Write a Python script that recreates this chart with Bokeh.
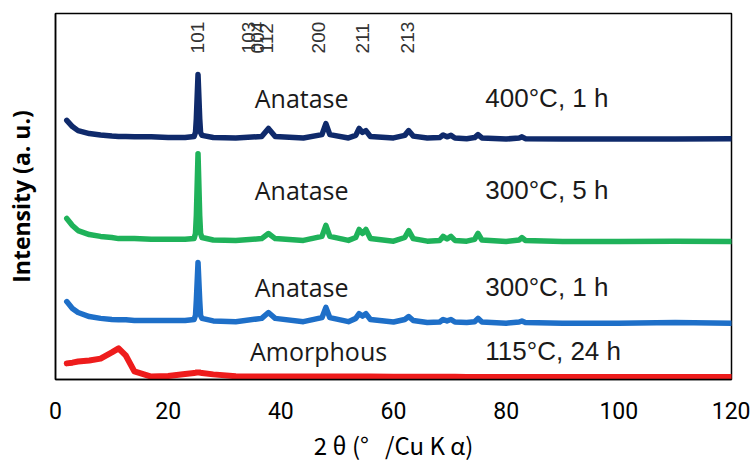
import math
from bokeh.plotting import figure
from bokeh.models import ColumnDataSource, FixedTicker, Range1d
from bokeh.core.properties import value
from bokeh.embed import file_html
from bokeh.resources import INLINE

# 2-theta positions (degrees)
two_theta = [2, 3, 4, 6, 8, 10, 11.2, 12.5, 14, 17, 20, 23, 24.6, 24.85, 25.0, 25.3, 25.6, 25.75,
             26.0, 28, 32, 36.6, 37.8, 39.0, 44, 47.3, 48.0, 48.7, 52, 53.3, 53.9, 54.5, 55.1,
             55.9, 60, 62.0, 62.7, 63.5, 66, 68.2, 68.8, 69.5, 70.2, 70.9, 73, 74.4, 75.0, 75.7,
             80, 82.3, 82.8, 83.4, 90, 100, 110, 120]

# stacked intensities (a. u.)
i_400c_1h = [70.8, 69.1, 68.0, 67.2, 66.8, 66.5, 66.4, 66.4, 66.3, 66.3, 66.1, 66.1, 66.4, 67.5, 71.3, 83.3, 71.3, 67.5,
             66.7, 66.1, 66.0, 66.4, 68.6, 66.4, 66.0, 66.9, 69.9, 66.9, 66.0, 66.7, 68.6, 67.5, 68.0,
             66.4, 66.0, 66.7, 68.0, 66.5, 66.0, 66.1, 66.8, 66.3, 66.7, 66.0, 65.8, 66.1, 66.9, 66.0,
             65.7, 66.0, 66.3, 65.8, 65.7, 65.7, 65.7, 65.8]
i_300c_5h = [44.0, 42.1, 40.7, 39.6, 39.1, 38.8, 38.5, 38.5, 38.5, 38.3, 38.3, 38.3, 38.5, 39.9, 44.8, 61.7, 44.8, 39.9,
             38.8, 38.1, 38.0, 38.5, 39.9, 38.5, 38.0, 39.1, 42.1, 39.1, 38.0, 38.8, 41.0, 39.9, 41.0,
             38.5, 37.8, 38.8, 40.7, 38.5, 37.8, 38.0, 39.1, 38.4, 39.1, 38.0, 37.8, 38.3, 39.9, 38.1,
             37.7, 38.1, 38.8, 38.0, 37.7, 37.7, 37.8, 37.7]
i_300c_1h = [21.3, 19.4, 18.3, 17.2, 16.7, 16.4, 16.3, 16.3, 16.1, 16.1, 16.1, 16.1, 16.4, 17.5, 21.6, 32.0, 21.6, 17.5,
             16.7, 16.0, 15.8, 16.7, 18.3, 16.7, 15.8, 16.9, 19.7, 16.9, 15.8, 16.7, 18.0, 17.3, 18.0,
             16.4, 15.7, 16.4, 17.2, 16.1, 15.6, 15.7, 16.4, 16.0, 16.4, 15.7, 15.6, 15.8, 16.7, 15.7,
             15.4, 15.7, 16.0, 15.6, 15.4, 15.4, 15.6, 15.4]
i_115c_24h = [4.4, 4.6, 4.9, 5.2, 5.7, 7.4, 8.5, 6.5, 2.2, 0.8, 0.95, 1.5, 1.8, 1.85, 1.9, 1.9, 1.9, 1.85,
              1.8, 1.4, 0.9, 0.8, 0.8, 0.8, 0.8, 0.8, 0.8, 0.8, 0.8, 0.8, 0.8, 0.8, 0.8,
              0.8, 0.75, 0.75, 0.75, 0.75, 0.75, 0.75, 0.75, 0.75, 0.75, 0.75, 0.7, 0.7, 0.7, 0.7,
              0.7, 0.7, 0.7, 0.7, 0.7, 0.65, 0.65, 0.65]

series_colors = ["#0f2a6b", "#1fb25a", "#1e6fc8", "#ee1c1c"]
series_widths = [5.5, 5.5, 5.5, 6]

phase_labels = ["Anatase", "Anatase", "Anatase", "Amorphous"]
condition_labels = ["400\u00b0C, 1 h", "300\u00b0C, 5 h", "300\u00b0C, 1 h", "115\u00b0C, 24 h"]

hkl_labels = ["101", "103", "004", "112", "200", "211", "213"]
hkl_label_x = [25.2, 34.3, 35.9, 37.5, 46.7, 54.5, 62.5]

x_ticks = [0, 20, 40, 60, 80, 100, 120]

p = figure(width=750, height=462, frame_width=676, frame_height=366,
           x_range=Range1d(0, 120), y_range=Range1d(0, 100),
           output_backend="svg", toolbar_location=None,
           min_border_left=55, min_border_top=13, min_border_right=19, min_border_bottom=83)

p.xgrid.visible = False
p.ygrid.visible = False
p.outline_line_color = "black"
p.outline_line_width = 1.5
p.background_fill_color = "white"
p.border_fill_color = "white"

for ys, c, w in zip([i_400c_1h, i_300c_5h, i_300c_1h, i_115c_24h], series_colors, series_widths):
    src = ColumnDataSource(dict(x=two_theta, y=ys))
    p.line("x", "y", source=src, line_color=c, line_width=w, line_join="round", line_cap="round")

# phase and condition texts
label_y = [76.9, 51.8, 25.3, 7.8]
p.text(x=[43.7, 43.7, 43.7, 46.7], y=label_y, text=phase_labels,
       text_font=value("Open Sans"), text_font_size="25px", text_color="#1a1a1a",
       text_align="center", text_baseline="alphabetic")
p.text(x=[76.3] * 4, y=label_y, text=condition_labels,
       text_font=value("Liberation Sans"), text_font_size="26px", text_color="#1a1a1a",
       text_align="left", text_baseline="alphabetic")

# hkl indices
p.text(x=hkl_label_x, y=[89.1] * len(hkl_labels), text=hkl_labels, angle=math.pi / 2,
       text_font=value("Liberation Sans"), text_font_size="19px", text_color="#333333",
       text_align="left", text_baseline="middle")

# axes
p.xaxis.ticker = FixedTicker(ticks=x_ticks)
p.xaxis.major_tick_out = 0
p.xaxis.major_tick_in = 0
p.xaxis.minor_tick_out = 0
p.xaxis.minor_tick_in = 0
p.xaxis.axis_line_color = "black"
p.xaxis.axis_line_width = 1.5
p.xaxis.major_label_text_font = "Roboto"
p.xaxis.major_label_text_font_size = "23px"
p.xaxis.major_label_text_color = "black"
p.xaxis.major_label_standoff = 22
p.xaxis.axis_label = "2 \u03b8 (\u00b0\u00a0\u00a0\u00a0/Cu K \u03b1)"
p.xaxis.axis_label_text_font = "Noto Sans CJK JP"
p.xaxis.axis_label_text_font_size = "24px"
p.xaxis.axis_label_text_font_style = "normal"
p.xaxis.axis_label_text_color = "black"
p.xaxis.axis_label_standoff = 5

p.yaxis.ticker = FixedTicker(ticks=[])
p.yaxis.major_tick_out = 0
p.yaxis.major_tick_in = 0
p.yaxis.minor_tick_out = 0
p.yaxis.minor_tick_in = 0
p.yaxis.major_label_text_font_size = "0px"
p.yaxis.axis_line_color = "black"
p.yaxis.axis_line_width = 1.5
p.yaxis.axis_label = "Intensity (a. u.)"
p.yaxis.axis_label_text_font = "Open Sans"
p.yaxis.axis_label_text_font_size = "23px"
p.yaxis.axis_label_text_font_style = "bold"
p.yaxis.axis_label_text_color = "black"
p.yaxis.axis_label_standoff = 19

open("out.html", "w").write(file_html(p, INLINE))
